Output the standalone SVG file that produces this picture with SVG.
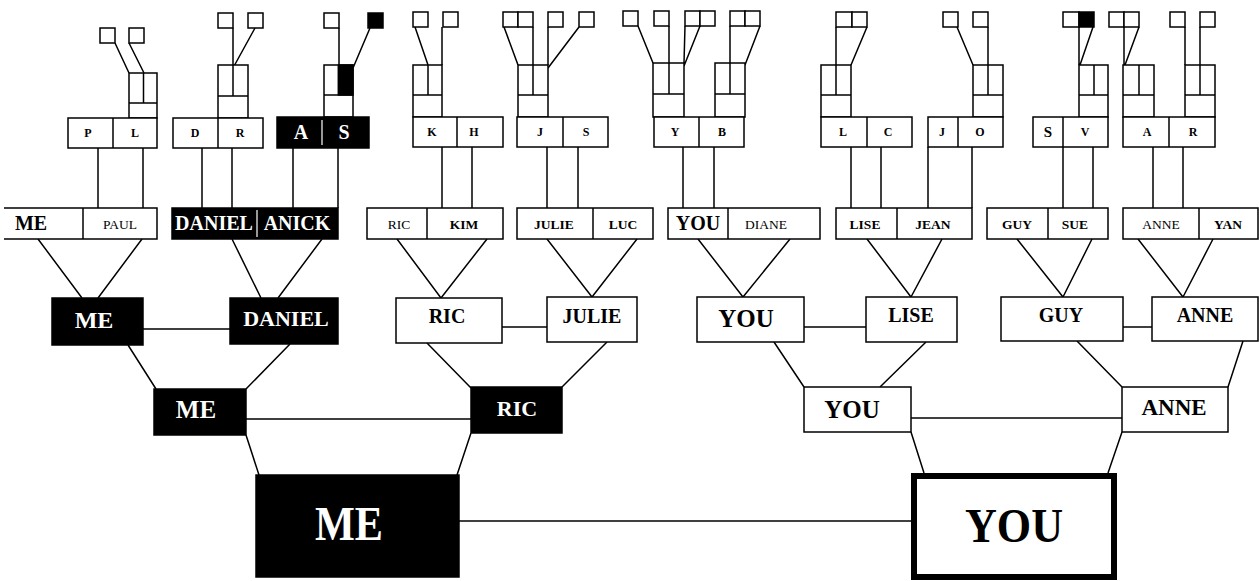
<svg xmlns="http://www.w3.org/2000/svg" width="1259" height="581" viewBox="0 0 1259 581">
<style>
.b{fill:#fff;stroke:#000;stroke-width:1.5}
.k{fill:#000;stroke:#000;stroke-width:1.5}
.ln{stroke:#000;stroke-width:1.5;fill:none}
.wl{stroke:#fff;stroke-width:1.2}
text{font-family:"Liberation Serif","Times New Roman",serif;font-weight:bold;text-anchor:middle;fill:#000}
.w{fill:#fff}
.n{font-weight:normal}
.p{font-size:12px}
.s{font-size:13.5px}
.m{font-size:20px}
.l{font-size:22px}
.xl{font-size:48px}
</style>
<rect width="1259" height="581" fill="#fff"/>
<g id="connectors" class="ln">
<path d="M115 43L129 73M129 43L144 73"/>
<path d="M233 28V65M255 28L233 68"/>
<path d="M339 28V65M370 28L353 68"/>
<path d="M415 27L428 65M442 27V65"/>
<path d="M504 27L518 65M533 27V65M548 27V65M579 27L548 68"/>
<path d="M638 26L653 63M669 26V63M685 26L684 63M700 26L684 66M730 26V63M760 26L745 65"/>
<path d="M836 27V65M867 27L851 65"/>
<path d="M957 27L973 65M988 27V65"/>
<path d="M1079 27V65M1093 27L1080 65"/>
<path d="M1124 27V65M1139 27L1125 65M1185 27V65M1200 27V65"/>
<path d="M98 148V208M143 148V208M202 148V208M232 148V208M293 148V208M338 148V208"/>
<path d="M442 147V208M472 147V208M547 147V208M578 147V208M683 147V208M714 147V208"/>
<path d="M851 147V208M881 147V208M928 147V208M972 147V208M1063 147V208M1093 147V208M1153 147V208M1183 147V208"/>
<path d="M38 239L82 298M142 239L98 298M232 239L261 298M322 239L278 298"/>
<path d="M397 239L441 298M487 239L441 298M547 239L592 297M637 239L592 297"/>
<path d="M698 239L743 297M790 239L743 297M867 239L911 297M942 239L911 297"/>
<path d="M1017 239L1063 297M1092 239L1063 297M1138 239L1183 297M1213 239L1183 297"/>
<path d="M143 329H230M502 327H547M804 327H866M1123 327H1152"/>
<path d="M128 345L156 389M290 344L246 389M427 343L471 388M607 342L562 387"/>
<path d="M774 342L804 387M926 342L880 387M1077 341L1122 387M1243 341L1228 387"/>
<path d="M246 419H471M911 418H1122"/>
<path d="M246 435L259 475M471 433L457 475M911 432L924 473M1122 432L1108 473"/>
<path d="M459 521H911"/>
</g>
<g id="squares">
<rect class="b" x="100" y="28" width="15" height="15"/>
<rect class="b" x="129" y="28" width="15" height="15"/>
<rect class="b" x="218" y="13" width="15" height="15"/>
<rect class="b" x="248" y="13" width="15" height="15"/>
<rect class="b" x="324" y="13" width="15" height="15"/>
<rect class="k" x="368" y="13" width="15" height="15"/>
<rect class="b" x="413" y="12" width="15" height="15"/>
<rect class="b" x="443" y="12" width="15" height="15"/>
<rect class="b" x="503" y="12" width="15" height="15"/>
<rect class="b" x="518" y="12" width="15" height="15"/>
<rect class="b" x="548" y="12" width="15" height="15"/>
<rect class="b" x="579" y="12" width="15" height="15"/>
<rect class="b" x="623" y="11" width="15" height="15"/>
<rect class="b" x="654" y="11" width="15" height="15"/>
<rect class="b" x="685" y="11" width="15" height="15"/>
<rect class="b" x="700" y="11" width="15" height="15"/>
<rect class="b" x="730" y="11" width="15" height="15"/>
<rect class="b" x="745" y="11" width="15" height="15"/>
<rect class="b" x="836" y="12" width="16" height="15"/>
<rect class="b" x="852" y="12" width="15" height="15"/>
<rect class="b" x="943" y="12" width="15" height="15"/>
<rect class="b" x="973" y="12" width="15" height="15"/>
<rect class="b" x="1063" y="12" width="16" height="15"/>
<rect class="k" x="1079" y="12" width="15" height="15"/>
<rect class="b" x="1109" y="12" width="15" height="15"/>
<rect class="b" x="1124" y="12" width="15" height="15"/>
<rect class="b" x="1170" y="12" width="15" height="15"/>
<rect class="b" x="1200" y="12" width="15" height="15"/>
</g>
<g id="stacked">
<g id="st-l"><rect class="b" x="129" y="73" width="28" height="45"/><path class="ln" d="M129 103H157M143.5 73V103"/></g>
<g id="st-r"><rect class="b" x="218" y="65" width="30" height="53"/><path class="ln" d="M218 96H248M233 65V96"/></g>
<g id="st-s"><rect class="b" x="324" y="65" width="29" height="52"/><rect class="k" x="338.5" y="65" width="14.5" height="30"/><path class="ln" d="M324 95H353M338.5 65V95"/></g>
<g id="st-k"><rect class="b" x="413" y="65" width="29" height="52"/><path class="ln" d="M413 95H442M428 65V95"/></g>
<g id="st-j"><rect class="b" x="518" y="65" width="30" height="52"/><path class="ln" d="M518 95H548M533 65V95"/></g>
<g id="st-y"><rect class="b" x="653" y="63" width="31" height="54"/><path class="ln" d="M653 94H684M669 63V94"/></g>
<g id="st-b"><rect class="b" x="715" y="63" width="30" height="54"/><path class="ln" d="M715 94H745M730 63V94"/></g>
<g id="st-l2"><rect class="b" x="821" y="65" width="30" height="52"/><path class="ln" d="M821 95H851M836 65V95"/></g>
<g id="st-o"><rect class="b" x="973" y="65" width="30" height="52"/><path class="ln" d="M973 95H1003M988 65V95"/></g>
<g id="st-v"><rect class="b" x="1079" y="65" width="29" height="52"/><path class="ln" d="M1079 95H1108M1094 65V95"/></g>
<g id="st-a"><rect class="b" x="1123" y="65" width="31" height="52"/><path class="ln" d="M1123 95H1154M1139 65V95"/></g>
<g id="st-r2"><rect class="b" x="1185" y="65" width="30" height="52"/><path class="ln" d="M1185 95H1215M1200 65V95"/></g>
</g>
<g id="pair-pl"><rect class="b" x="68" y="118" width="89" height="30"/><path class="ln" d="M113 118V148"/><text class="p" x="88" y="137">P</text><text class="p" x="135" y="137">L</text></g>
<g id="pair-dr"><rect class="b" x="173" y="118" width="90" height="30"/><path class="ln" d="M218 118V148"/><text class="p" x="195" y="137">D</text><text class="p" x="240" y="137">R</text></g>
<g id="pair-as"><rect class="k" x="277" y="117" width="92" height="31"/><path class="wl" d="M322 120V145"/><text class="m w" x="301" y="139">A</text><text class="m w" x="344" y="139">S</text></g>
<g id="pair-kh"><rect class="b" x="413" y="117" width="90" height="30"/><path class="ln" d="M457 117V147"/><text class="p" x="432" y="136">K</text><text class="p" x="474" y="136">H</text></g>
<g id="pair-js"><rect class="b" x="517" y="117" width="91" height="30"/><path class="ln" d="M563 117V147"/><text class="p" x="540" y="136">J</text><text class="p" x="586" y="136">S</text></g>
<g id="pair-yb"><rect class="b" x="654" y="117" width="90" height="30"/><path class="ln" d="M699 117V147"/><text class="p" x="675" y="136">Y</text><text class="p" x="722" y="136">B</text></g>
<g id="pair-lc"><rect class="b" x="821" y="117" width="91" height="30"/><path class="ln" d="M867 117V147"/><text class="p" x="843" y="136">L</text><text class="p" x="888" y="136">C</text></g>
<g id="pair-jo"><rect class="b" x="928" y="117" width="75" height="30"/><path class="ln" d="M958 117V147"/><text class="p" x="942" y="136">J</text><text class="p" x="980" y="136">O</text></g>
<g id="pair-sv"><rect class="b" x="1033" y="117" width="75" height="30"/><path class="ln" d="M1063 117V147"/><text x="1048" y="137" style="font-size:15px">S</text><text class="p" x="1085" y="136">V</text></g>
<g id="pair-ar"><rect class="b" x="1123" y="117" width="92" height="30"/><path class="ln" d="M1169 117V147"/><text class="p" x="1147" y="136">A</text><text class="p" x="1193" y="136">R</text></g>
<g id="couple-me-paul"><path class="b" d="M4 208H157V239H4"/><path class="ln" d="M83 208V239"/><text class="m" x="31" y="230">ME</text><text class="s n" x="120" y="229">PAUL</text></g>
<g id="couple-daniel-anick"><rect class="k" x="172" y="208" width="166" height="31"/><path class="wl" d="M257 210V237"/><text class="m w" x="214" y="230">DANIEL</text><text class="m w" x="297" y="230">ANICK</text></g>
<g id="couple-ric-kim"><rect class="b" x="367" y="208" width="136" height="31"/><path class="ln" d="M427 208V239"/><text class="s n" x="399" y="229">RIC</text><text class="s" x="464" y="229">KIM</text></g>
<g id="couple-julie-luc"><rect class="b" x="517" y="208" width="136" height="31"/><path class="ln" d="M593 208V239"/><text class="s" x="554" y="229">JULIE</text><text class="s" x="623" y="229">LUC</text></g>
<g id="couple-you-diane"><rect class="b" x="668" y="208" width="152" height="31"/><path class="ln" d="M728 208V239"/><text class="m" x="698" y="230">YOU</text><text class="s n" x="766" y="229">DIANE</text></g>
<g id="couple-lise-jean"><rect class="b" x="836" y="208" width="136" height="31"/><path class="ln" d="M897 208V239"/><text class="s" x="865" y="229">LISE</text><text class="s" x="933" y="229">JEAN</text></g>
<g id="couple-guy-sue"><rect class="b" x="987" y="208" width="121" height="31"/><path class="ln" d="M1048 208V239"/><text class="s" x="1017" y="229">GUY</text><text class="s" x="1075" y="229">SUE</text></g>
<g id="couple-anne-yan"><rect class="b" x="1123" y="208" width="135" height="31"/><path class="ln" d="M1199 208V239"/><text class="s n" x="1161" y="229">ANNE</text><text class="s" x="1228" y="229">YAN</text></g>
<g id="p2-me"><rect class="k" x="52" y="298" width="91" height="47"/><text class="l w" x="94" y="328" style="font-size:24px">ME</text></g>
<g id="p2-daniel"><rect class="k" x="230" y="298" width="108" height="46"/><text class="l w" x="286" y="326">DANIEL</text></g>
<g id="p2-ric"><rect class="b" x="396" y="298" width="106" height="45"/><text class="m" x="447" y="323">RIC</text></g>
<g id="p2-julie"><rect class="b" x="547" y="297" width="90" height="45"/><text class="m" x="592" y="323">JULIE</text></g>
<g id="p2-you"><rect class="b" x="697" y="297" width="107" height="45"/><text x="746" y="327" style="font-size:25px">YOU</text></g>
<g id="p2-lise"><rect class="b" x="866" y="297" width="91" height="45"/><text class="m" x="911" y="322">LISE</text></g>
<g id="p2-guy"><rect class="b" x="1001" y="297" width="122" height="44"/><text class="m" x="1061" y="322">GUY</text></g>
<g id="p2-anne"><rect class="b" x="1152" y="297" width="106" height="44"/><text class="m" x="1205" y="322">ANNE</text></g>
<g id="p3-me"><rect class="k" x="154" y="389" width="92" height="46"/><text class="w" x="196" y="418" style="font-size:25px">ME</text></g>
<g id="p3-ric"><rect class="k" x="471" y="387" width="91" height="46"/><text class="l w" x="517" y="416">RIC</text></g>
<g id="p3-you"><rect class="b" x="804" y="387" width="107" height="45"/><text x="852" y="418" style="font-size:25px">YOU</text></g>
<g id="p3-anne"><rect class="b" x="1122" y="387" width="106" height="45"/><text x="1174" y="415" style="font-size:23px">ANNE</text></g>
<g id="p4-me"><rect class="k" x="256" y="475" width="203" height="102"/><text class="xl w" x="349" y="540" textLength="68" lengthAdjust="spacingAndGlyphs">ME</text></g>
<g id="p4-you"><rect x="914" y="476" width="200" height="101" fill="#fff" stroke="#000" stroke-width="6"/><text class="xl" x="1014" y="542" textLength="98" lengthAdjust="spacingAndGlyphs">YOU</text></g>
</svg>
